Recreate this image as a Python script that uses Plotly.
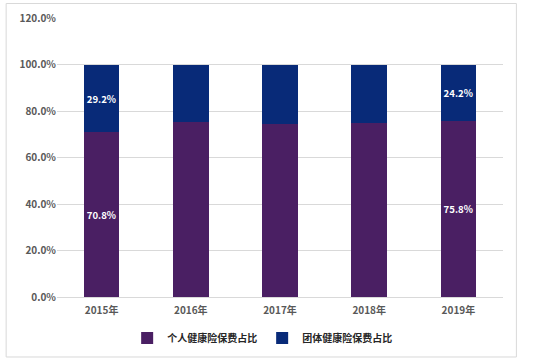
import plotly.graph_objects as go

years = ["2015年", "2016年", "2017年", "2018年", "2019年"]
individual = [70.8, 75.3, 74.6, 75.0, 75.8]
group = [29.2, 24.7, 25.4, 25.0, 24.2]
individual_labels = ["70.8%", "", "", "", "75.8%"]
group_labels = ["29.2%", "", "", "", "24.2%"]

font_family = "Noto Sans CJK SC, DejaVu Sans, sans-serif"

fig = go.Figure()
fig.add_trace(go.Bar(
    x=years, y=individual, name="个人健康险保费占比",
    marker=dict(color="#4A1F63", line=dict(width=0)),
    text=individual_labels, textposition="inside", insidetextanchor="middle",
    textangle=0,
    textfont=dict(color="white", size=10, family=font_family, weight="bold"),
    hoverinfo="x+y",
))
fig.add_trace(go.Bar(
    x=years, y=group, name="团体健康险保费占比",
    marker=dict(color="#082A78", line=dict(width=0)),
    text=group_labels, textposition="inside", insidetextanchor="middle",
    textangle=0,
    textfont=dict(color="white", size=10, family=font_family, weight="bold"),
    hoverinfo="x+y",
))

fig.update_layout(
    barmode="stack",
    bargap=0.6,
    width=550, height=363,
    margin=dict(l=57, r=47, t=18, b=66, autoexpand=False),
    paper_bgcolor="white",
    plot_bgcolor="white",
    font=dict(family=font_family, color="#595959", size=10),
    uniformtext=dict(mode="show", minsize=8),
    legend=dict(
        orientation="h", x=0.46, xanchor="center", y=-0.147, yanchor="middle",
        font=dict(size=10, color="#262626", family=font_family, weight="bold"),
        itemwidth=30, traceorder="normal",
    ),
    shapes=[dict(
        type="rect", xref="paper", yref="paper",
        x0=-0.114, x1=1.03, y0=-0.215, y1=1.052,
        line=dict(color="#D9D9D9", width=1), layer="below",
    )],
)
fig.update_xaxes(
    showgrid=False, showline=False, ticks="", ticklabelstandoff=6,
    tickfont=dict(size=10, color="#595959", family=font_family, weight="bold"),
)
fig.update_yaxes(
    range=[0, 120], dtick=20, ticksuffix="%", tickformat=".1f",
    showgrid=True, gridcolor="#D9D9D9", gridwidth=1,
    zeroline=True, zerolinecolor="#D9D9D9", zerolinewidth=1,
    showline=False, ticks="",
    tickfont=dict(size=10, color="#595959", family=font_family, weight="bold"),
)

fig.write_html(
    "out.html",
    config={"displayModeBar": False},
    post_script="document.body.style.margin='0px';",
)
